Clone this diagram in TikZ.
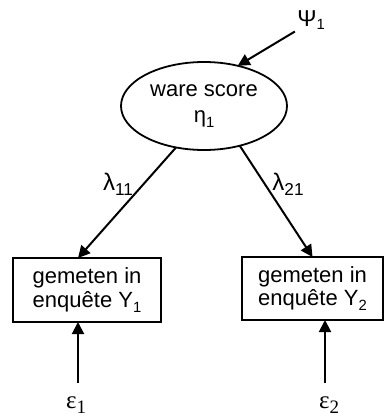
\documentclass[tikz,border=0pt]{standalone}
\usepackage{fontspec}
\setmainfont{Liberation Sans}
\newfontfamily\serifgreek{Liberation Serif}
\usetikzlibrary{arrows.meta,shapes.geometric}

% lowered, smaller index after a symbol
\newcommand{\idx}[1]{\raisebox{-0.45ex}{\fontsize{7.4}{8}\selectfont #1}}
\newcommand{\pidx}[1]{\raisebox{-0.2ex}{\fontsize{7.4}{8}\selectfont #1}}
\newcommand{\lidx}[1]{\raisebox{-0.4ex}{\fontsize{8.6}{9}\selectfont #1}}
\newcommand{\erridx}[1]{\raisebox{-0.5ex}{\fontsize{9.5}{10}\selectfont #1}}

\tikzset{
  arr/.style={-{Triangle[length=6pt,width=6pt]}, line width=1pt},
  latent/.style={ellipse, draw, line width=0.9pt, minimum width=83pt,
    minimum height=44pt, inner sep=0pt, outer sep=0pt, align=center,
    font=\fontsize{11}{13}\selectfont},
  observed/.style={rectangle, draw, line width=0.9pt, inner sep=0pt,
    outer sep=0pt, align=center, font=\fontsize{11}{11.8}\selectfont},
  lab/.style={inner sep=1pt, font=\fontsize{11.5}{12}\selectfont},
  loadlab/.style={inner sep=0pt, font=\fontsize{12}{12}\selectfont},
  errlab/.style={inner sep=0pt, font=\serifgreek\fontsize{12.5}{13}\selectfont}
}

\begin{document}
\begin{tikzpicture}[x=0.5pt, y=-0.5pt]
  \useasboundingbox (0,0) rectangle (386,416);

  % latent variable
  \node[latent] (eta) at (204,106) {ware score\\[0pt]η\idx{1}};
  \node[lab] (psi) at (311,20) {Ψ\pidx{1}};

  % indicators
  \node[observed, minimum width=74pt, minimum height=32pt] (b1) at (87,290)
    {gemeten in\\enquête Y\idx{1}};
  \node[observed, minimum width=70.5pt, minimum height=31.5pt] (b2) at (312.5,288.5)
    {gemeten in\\enquête Y\idx{2}};

  % loadings
  \node[loadlab] (l11) at (118,184) {λ\lidx{11}};
  \node[loadlab] (l21) at (288,184) {λ\lidx{21}};

  % measurement errors
  \node[errlab] (e1) at (76,405) {ε\erridx{1}};
  \node[errlab] (e2) at (329,405) {ε\erridx{2}};
  \coordinate (e1t) at (78,383);
  \coordinate (e2t) at (325,383);

  % paths
  \draw[arr] (psi.south west) -- (eta.50);
  \draw[arr] (eta.236.6) -- (b1.north -| e1t);
  \draw[arr] (eta.312) -- (b2.north);
  \draw[arr] (e1t) -- (e1t |- b1.south);
  \draw[arr] (e2t) -- (e2t |- b2.south);
\end{tikzpicture}
\end{document}
